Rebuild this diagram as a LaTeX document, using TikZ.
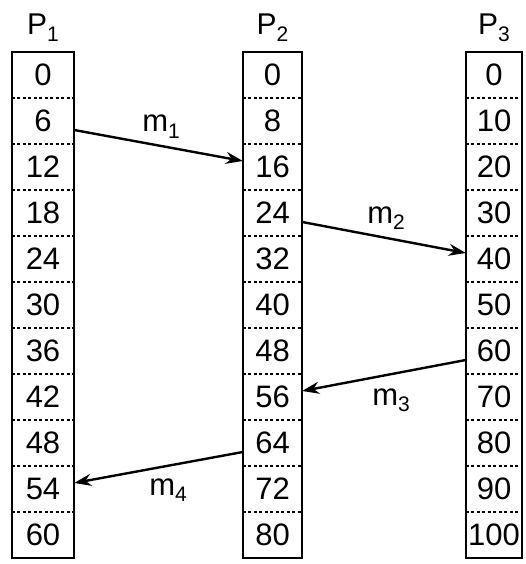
\documentclass[tikz,border=0pt]{standalone}
\usepackage{fontspec}
\setmainfont{Liberation Sans}
\usetikzlibrary{calc,arrows.meta}
\newcommand{\mysub}[1]{\raisebox{-0.22em}{\fontsize{21}{21}\selectfont #1}}
\begin{document}
\begin{tikzpicture}[x=1pt,y=-1pt,
  cell/.style={inner sep=0pt, minimum height=46pt, font=\fontsize{31}{31}\selectfont},
  border/.style={line width=2.4pt},
  divider/.style={line width=2pt, dash pattern=on 3pt off 2.5pt},
  plabel/.style={inner sep=0pt, font=\fontsize{30}{30}\selectfont},
  mlabel/.style={inner sep=0pt, anchor=base, font=\fontsize{31}{31}\selectfont},
  msg/.style={line width=2.4pt, -{Stealth[length=17pt,width=12pt]}}]
\useasboundingbox (0,0) rectangle (525,564);
\foreach \col/\xl/\xr/\st in {1/12/74/6, 2/243/302/8, 3/466/522/10}{
  \foreach \r in {0,...,10}{
    \pgfmathtruncatemacro\v{\r*\st}
    \node[cell, minimum width={(\xr-\xl)*1pt}] (c\col r\r) at ({(\xl+\xr)/2}, {75+46*\r}) {\v};
  }
  \foreach \r in {1,...,10}{
    \draw[divider] (c\col r\r.north west) -- (c\col r\r.north east);
  }
  \draw[border] (c\col r0.north west) rectangle (c\col r10.south east);
  \node[plabel, anchor=base] (P\col) at ({(\xl+\xr)/2}, 35) {P\mysub{\col}};
}
\draw[msg] ($(c1r1.east)+(0,9)$) coordinate (s1) -- ($(c2r2.west)+(0,-6)$) coordinate (e1);
\draw[msg] ($(c2r3.east)+(0,9)$) coordinate (s2) -- ($(c3r4.west)+(0,-6)$) coordinate (e2);
\draw[msg] ($(c3r6.west)+(0,9)$) coordinate (s3) -- ($(c2r7.east)+(0,-6)$) coordinate (e3);
\draw[msg] ($(c2r8.west)+(0,9)$) coordinate (s4) -- ($(c1r9.east)+(0,-6)$) coordinate (e4);
\node[mlabel] (m1) at (161,132) {m\mysub{1}};
\node[mlabel] (m2) at (386,223) {m\mysub{2}};
\node[mlabel] (m3) at (391,405) {m\mysub{3}};
\node[mlabel] (m4) at (168,495) {m\mysub{4}};
\end{tikzpicture}
\end{document}
